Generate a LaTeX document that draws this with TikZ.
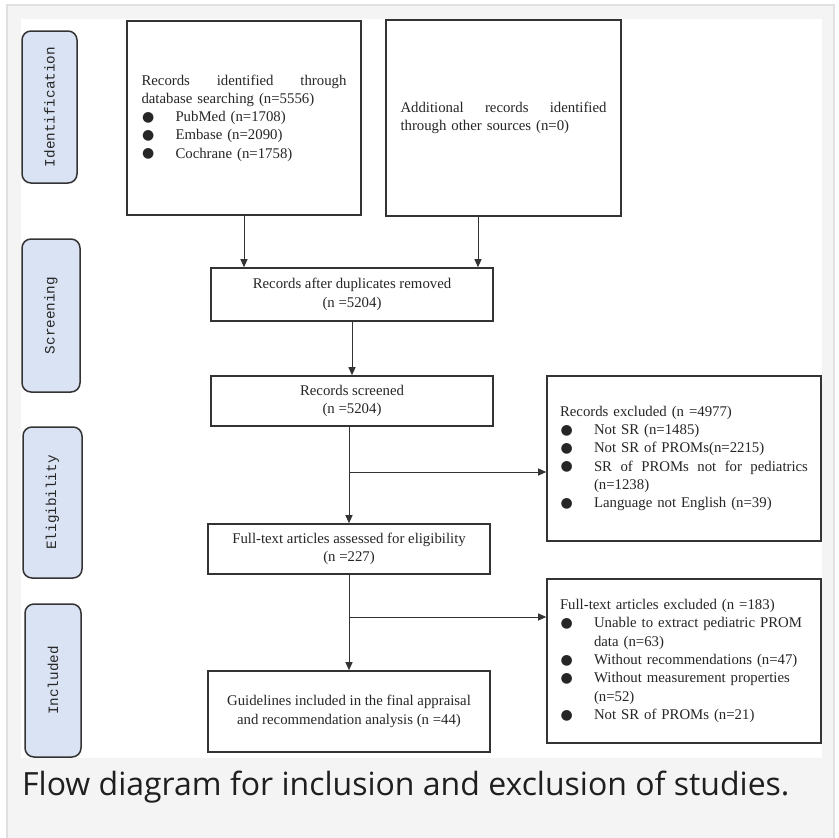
\documentclass[tikz,border=0pt]{standalone}
\usepackage{fontspec}
\setmainfont{Liberation Serif}
\newfontfamily\capfont{Open Sans}
\newfontfamily\stagefont{Liberation Mono}
\newfontfamily\symfont{DejaVu Sans}
\usetikzlibrary{arrows.meta}
\definecolor{cardgray}{HTML}{F4F4F4}
\definecolor{frameline}{HTML}{E0E0E0}
\definecolor{stagefill}{HTML}{DAE3F3}
\definecolor{boxline}{HTML}{333333}
\newcommand{\bl}{\makebox[34pt][l]{\hspace*{0.5pt}\raisebox{0.3pt}{\symfont\fontsize{14}{14}\selectfont ●}}}
\tikzset{
  box/.style={draw=boxline, line width=1.6pt, fill=white, inner sep=0pt,
    font=\fontsize{14.8}{18.3}\selectfont, text=black!85},
  stagebox/.style={draw=boxline, line width=1.5pt, fill=stagefill, rounded corners=9pt,
    inner sep=0pt, minimum width=57pt},
  stagetext/.style={rotate=90, font=\stagefont\fontsize{14.3}{16}\selectfont, text=black!85},
  arr/.style={draw=black!80, line width=1pt, -{Triangle[length=8pt,width=7pt]}},
  plain/.style={draw=black!80, line width=1pt}
}
\begin{document}
\begin{tikzpicture}[x=1pt,y=-1pt]
\useasboundingbox (0,0) rectangle (838,838);
\fill[white] (0,0) rectangle (838,838);
\filldraw[fill=cardgray, draw=frameline, line width=1.2pt] (7,5) rectangle (834,845);
\fill[white] (21,19) rectangle (822,758);

% stage labels
\node[stagebox, minimum width=55pt, minimum height=152pt] (s1) at (49.5,107) {};
\node[stagetext] at (s1.center) {Identification};
\node[stagebox, minimum width=58pt, minimum height=153pt] (s2) at (51,315.5) {};
\node[stagetext] at (s2.center) {Screening};
\node[stagebox, minimum width=59pt, minimum height=151pt] (s3) at (52.5,502.5) {};
\node[stagetext] at (s3.center) {Eligibility};
\node[stagebox, minimum width=56pt, minimum height=153pt] (s4) at (53,680.5) {};
\node[stagetext] at (s4.center) {Included};

% main boxes
\node[box, minimum width=234pt, minimum height=194pt, text width=205pt, align=left] (A) at (244,118)
 {\makebox[205pt][l]{Records\hfill identified\hfill through}\\
  database searching (n=5556)\\
  \bl PubMed (n=1708)\\
  \bl Embase (n=2090)\\
  \bl Cochrane (n=1758)};
\node[box, minimum width=235pt, minimum height=196pt, text width=206pt, align=left] (B) at (503.5,118)
 {\makebox[206pt][l]{Additional\hfill records\hfill identified}\\
  through other sources (n=0)};
\node[box, minimum width=282pt, minimum height=53pt, align=center] (C) at (352,294.5)
 {Records after duplicates removed\\(n =5204)};
\node[box, minimum width=282pt, minimum height=50pt, align=center] (D) at (352,401)
 {Records screened\\(n =5204)};
\node[box, minimum width=274pt, minimum height=165pt, text width=248pt, align=left] (F) at (684,458.5)
 {Records excluded (n =4977)\\
  \bl Not SR (n=1485)\\
  \bl Not SR of PROMs(n=2215)\\
  \bl\makebox[214pt][l]{SR\hfill of\hfill PROMs\hfill not\hfill for\hfill pediatrics}\\
  \hspace*{34pt}(n=1238)\\
  \bl Language not English (n=39)};
\node[box, minimum width=282pt, minimum height=50pt, align=center] (E) at (349,549)
 {Full-text articles assessed for eligibility\\(n =227)};
\node[box, minimum width=274pt, minimum height=164pt, text width=248pt, align=left] (H) at (684,661)
 {Full-text articles excluded (n =183)\\
  \bl Unable to extract pediatric PROM\\
  \hspace*{34pt}data (n=63)\\
  \bl Without recommendations (n=47)\\
  \bl Without measurement properties\\
  \hspace*{34pt}(n=52)\\
  \bl Not SR of PROMs (n=21)};
\node[box, minimum width=282pt, minimum height=81pt, align=center] (G) at (349,711.5)
 {Guidelines included in the final appraisal\\and recommendation analysis (n =44)};

% connectors
\draw[arr] (A.south) -- (A.south |- C.north);
\draw[arr] ([xshift=-25.5pt]B.south) -- ([xshift=-25.5pt]B.south |- C.north);
\draw[arr] (C.south) -- (C.south |- D.north);
\coordinate (j1) at (349,472);
\draw[arr] (E.north |- D.south) -- (E.north);
\draw[arr] (j1) -- (j1 -| F.west);
\coordinate (j2) at (349,617);
\draw[arr] (E.south) -- (G.north);
\draw[arr] (j2) -- (j2 -| H.west);

% caption
\node[anchor=base west, inner sep=0pt, font=\capfont\fontsize{32}{32}\selectfont, text=black!88] (cap) at (22,795)
 {Flow diagram for inclusion and exclusion of studies.};
\end{tikzpicture}
\end{document}
